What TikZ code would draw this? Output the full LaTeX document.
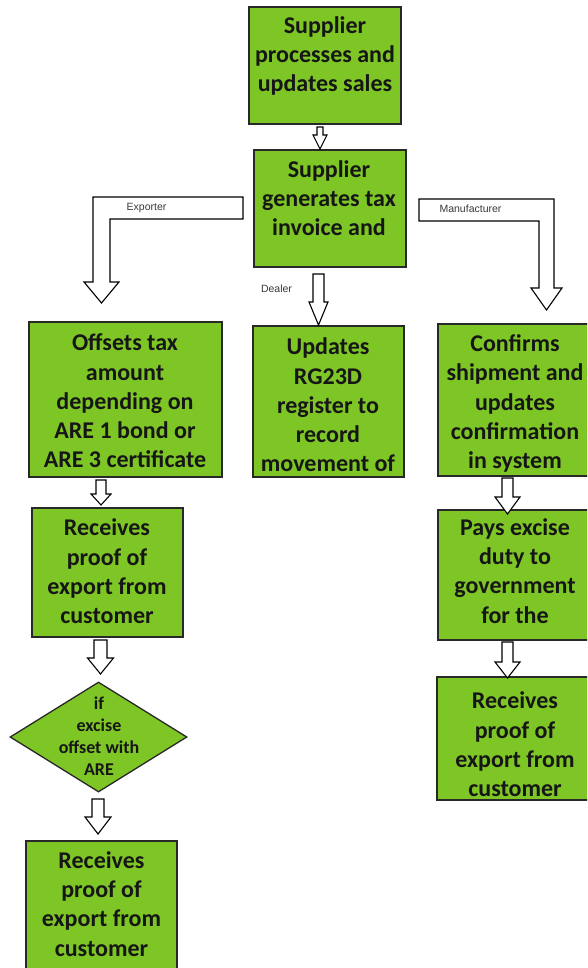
\documentclass[tikz,border=0pt]{standalone}
\usepackage{fontspec}
\setmainfont{Carlito}
\newfontfamily\labelfont{Liberation Sans}
\usetikzlibrary{calc,shapes.geometric}
\definecolor{boxgreen}{RGB}{126,198,38}
\definecolor{boxedge}{RGB}{40,40,40}
\definecolor{txtcol}{RGB}{22,22,22}
\newcommand\varrow[5]{\draw[barrow] let \p1=(#1), \p2=(#2) in
  (\x2-#3,\y1) -- (\x2+#3,\y1) -- (\x2+#3,\y2+#5) -- (\x2+#4,\y2+#5) -- (\x2,\y2)
  -- (\x2-#4,\y2+#5) -- (\x2-#3,\y2+#5) -- cycle;}
\begin{document}
\begin{tikzpicture}[x=1pt,y=-1pt,
 box/.style={draw=boxedge, line width=1.3pt, fill=boxgreen, inner sep=0pt},
 btxt/.style={align=center, font=\fontsize{24}{29.3}\selectfont\bfseries, text=txtcol, inner sep=0pt},
 dtxt/.style={align=center, font=\fontsize{18}{22}\selectfont\bfseries, text=txtcol, inner sep=0pt},
 lbl/.style={font=\labelfont\fontsize{10.5}{12}\selectfont, text=txtcol!85, inner sep=0pt},
 barrow/.style={draw=black, fill=white, line width=1.1pt, line join=miter}]
\clip (0,0) rectangle (587,968);
\fill[white] (0,0) rectangle (587,968);

% boxes
\node[box, minimum width=152pt, minimum height=117pt] (b1) at (325,65.5) {};
\node[box, minimum width=152pt, minimum height=117pt] (b2) at (330,208.5) {};
\node[box, minimum width=193pt, minimum height=155pt] (b3) at (125.5,399.5) {};
\node[box, minimum width=151pt, minimum height=151pt] (b4) at (328.5,401.5) {};
\node[box, minimum width=154pt, minimum height=152pt] (b5) at (515,400) {};
\node[box, minimum width=151pt, minimum height=129pt] (b6) at (107.5,572.5) {};
\node[box, shape=diamond, minimum width=177pt, minimum height=110pt] (d1) at (98.5,737) {};
\node[box, minimum width=154pt, minimum height=130pt] (b7) at (515,575) {};
\node[box, minimum width=155pt, minimum height=123pt] (b8) at (514.5,738.5) {};
\node[box, minimum width=151pt, minimum height=140pt] (b9) at (101.5,911) {};

% texts
\node[btxt] (t1) at (325,56) {Supplier\\processes and\\updates sales};
\node[btxt] (t2) at (329,198) {Supplier\\generates tax\\invoice and};
\node[btxt] (t3) at (125,401) {Offsets tax\\amount\\depending on\\ARE 1 bond or\\ARE 3 certificate};
\node[btxt] (t4) at (328,405) {Updates\\RG23D\\register to\\record\\movement of};
\node[btxt] (t5) at (515,403.5) {Confirms\\shipment and\\updates\\confirmation\\in system};
\node[btxt] (t6) at (107,571.5) {Receives\\proof of\\export from\\customer};
\node[dtxt] (t7) at (99,736.5) {if\\excise\\offset with\\ARE};
\node[btxt] (t8) at (515,571) {Pays excise\\duty to\\government\\for the};
\node[btxt] (t9) at (515,744.5) {Receives\\proof of\\export from\\customer};
\node[btxt] (t10) at (101.5,904) {Receives\\proof of\\export from\\customer};

% arrow end points
\coordinate (a1s) at (320,127);   \coordinate (a1e) at (320,149);
\coordinate (a2s) at (318.5,274); \coordinate (a2e) at (318.5,325);
\coordinate (a3s) at (101,480);   \coordinate (a3e) at (101,505);
\coordinate (a4s) at (100.5,640); \coordinate (a4e) at (100.5,674);
\coordinate (a5s) at (98,799);    \coordinate (a5e) at (98,834);
\coordinate (a6s) at (507.5,478); \coordinate (a6e) at (507.5,514);
\coordinate (a7s) at (507.5,642); \coordinate (a7e) at (507.5,678);

\varrow{a1s}{a1e}{3pt}{7pt}{14pt}
\varrow{a2s}{a2e}{5.5pt}{9.5pt}{23pt}
\varrow{a3s}{a3e}{5pt}{10pt}{11pt}
\varrow{a4s}{a4e}{6.5pt}{13pt}{16pt}
\varrow{a5s}{a5e}{6pt}{13pt}{17pt}
\varrow{a6s}{a6e}{5.5pt}{12.5pt}{17pt}
\varrow{a7s}{a7e}{5.5pt}{12.5pt}{16pt}

% bent arrows
\draw[barrow] (243,197) -- (93,197) -- (93,282) -- (84,282) -- (101.5,303) -- (119,282) -- (110,282) -- (110,219) -- (243,219) -- cycle;
\draw[barrow] (419,199) -- (554,199) -- (554,288) -- (562,288) -- (546.5,310) -- (531,288) -- (539,288) -- (539,221) -- (419,221) -- cycle;

% labels
\node[lbl] (l1) at (146.5,208) {Exporter};
\node[lbl] (l2) at (470.5,209) {Manufacturer};
\node[lbl] (l3) at (276.5,289) {Dealer};
\end{tikzpicture}
\end{document}
